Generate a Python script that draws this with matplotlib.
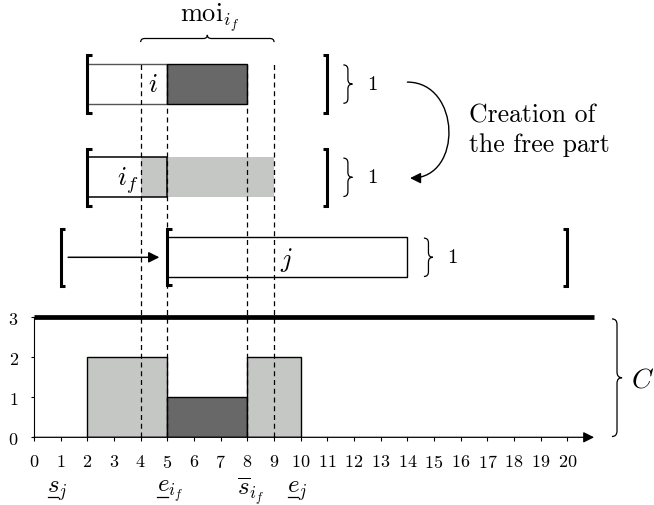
import matplotlib as mpl
mpl.use('Agg')
import matplotlib.pyplot as plt
from matplotlib.path import Path
from matplotlib.patches import PathPatch, FancyArrowPatch

plt.rcParams['font.family'] = 'cmr10'
plt.rcParams['mathtext.fontset'] = 'cm'
plt.rcParams['axes.formatter.use_mathtext'] = True

DARK = '#686868'
LIGHT = '#c5c7c5'

# resource profile (bottom part)
prof_start = [2, 5, 8]
prof_end = [5, 8, 10]
prof_height = [2, 1, 2]
prof_color = [LIGHT, DARK, LIGHT]
capacity = 3
horizon = 20
x_ticks = list(range(0, 21))
y_ticks = [0, 1, 2, 3]

# task i : white part then compulsory part
i_box = [2, 5]
i_comp = [5, 8]
i_window = [2, 11]
# free part i_f
if_box = [2, 5]
if_free = [4, 9]
if_window = [2, 11]
# task j
j_box = [5, 14]
j_window = [1, 20]
j_new_start = 5

dash_x = [4, 5, 8, 9]
bottom_labels = [r'$s_j$', r'$e_{i_f}$', r'$\overline{s}_{i_f}$', r'$e_j$']
bottom_label_x = [0.5, 4.6, 7.62, 9.48]
underlined = [True, True, False, True]

# pixel mapping: x=0 at 34px, 26.67 px per unit ; y=0 at 438.3px, 40 px per unit
PX = 26.67
PY = 40.0
fig = plt.figure(figsize=(6.54, 5.06), dpi=100)

bx = fig.add_axes([34/654, (506-438.3)/506, 21*PX/654, 3*PY/506])
for s, e, h, c in zip(prof_start, prof_end, prof_height, prof_color):
    bx.bar(s, h, width=e-s, align='edge', color=c, edgecolor='k', lw=1, zorder=2)
bx.plot([0, 21], [capacity, capacity], color='k', lw=3.4, solid_capstyle='butt', clip_on=False, zorder=3)
bx.set_xlim(0, 21)
bx.set_ylim(0, 3)
bx.spines['top'].set_visible(False)
bx.spines['right'].set_visible(False)
bx.spines['bottom'].set_visible(False)
bx.spines['left'].set_linewidth(0.8)
bx.annotate('', xy=(21, 0), xytext=(0, 0), annotation_clip=False,
            arrowprops=dict(arrowstyle='-|>', lw=0.9, color='k', shrinkA=0, shrinkB=0, mutation_scale=16))
bx.set_xticks(x_ticks)
bx.set_yticks(y_ticks)
bx.tick_params(axis='x', length=3, width=0.8, pad=8, labelsize=13)
bx.tick_params(axis='y', length=2, width=0.8, pad=9, labelsize=13)
bx.patch.set_alpha(0)

ax = fig.add_axes([0, 0, 1, 1])
ax.set_xlim(-34/PX, (654-34)/PX)
ax.set_ylim(-(506-438.3)/PY, 438.3/PY)
ax.axis('off')

ROW_I, ROW_IF, ROW_J = 8.33, 6.0, 4.0


def bracket(x, y0, y1, side, ext=0.22):
    arm = 0.17 * side
    ax.plot([x+arm, x, x, x+arm], [y0-ext, y0-ext, y1+ext, y1+ext], color='k', lw=2.2,
            solid_joinstyle='miter', solid_capstyle='butt', zorder=6)


def vbrace(x, y0, y1, w=0.34, r=0.12):
    ym = (y0 + y1) / 2
    verts = [(x, y1), (x+w/2, y1), (x+w/2, y1-r), (x+w/2, ym+r), (x+w/2, ym), (x+w, ym),
             (x+w/2, ym), (x+w/2, ym-r), (x+w/2, y0+r), (x+w/2, y0), (x, y0)]
    codes = [Path.MOVETO, Path.CURVE3, Path.CURVE3, Path.LINETO, Path.CURVE3, Path.CURVE3,
             Path.CURVE3, Path.CURVE3, Path.LINETO, Path.CURVE3, Path.CURVE3]
    ax.add_patch(PathPatch(Path(verts, codes), fc='none', ec='k', lw=0.9))


def hbrace(x0, x1, y, h=0.18, r=0.15):
    xm = (x0 + x1) / 2
    verts = [(x0, y), (x0, y+h/2), (x0+r, y+h/2), (xm-r, y+h/2), (xm, y+h/2), (xm, y+h),
             (xm, y+h/2), (xm+r, y+h/2), (x1-r, y+h/2), (x1, y+h/2), (x1, y)]
    codes = [Path.MOVETO, Path.CURVE3, Path.CURVE3, Path.LINETO, Path.CURVE3, Path.CURVE3,
             Path.CURVE3, Path.CURVE3, Path.LINETO, Path.CURVE3, Path.CURVE3]
    ax.add_patch(PathPatch(Path(verts, codes), fc='none', ec='k', lw=0.9))


# task i
ax.barh(ROW_I, i_box[1]-i_box[0], left=i_box[0], height=1, align='edge', color='white', edgecolor='#555555', lw=1)
ax.barh(ROW_I, i_comp[1]-i_comp[0], left=i_comp[0], height=1, align='edge', color=DARK, edgecolor='k', lw=1)
bracket(i_window[0], ROW_I, ROW_I+1, 1)
bracket(i_window[1], ROW_I, ROW_I+1, -1)
vbrace(11.6, ROW_I+0.02, ROW_I+0.98)
ax.text(4.47, ROW_I+0.5, r'$i$', fontsize=19, ha='center', va='center', zorder=8)
ax.text(12.67, ROW_I+0.5, '1', fontsize=15, ha='center', va='center')

# free part i_f
ax.barh(ROW_IF, if_box[1]-if_box[0], left=if_box[0], height=1, align='edge', color='white', lw=0)
ax.barh(ROW_IF, if_free[1]-if_free[0], left=if_free[0], height=1, align='edge', color=LIGHT, lw=0)
ax.barh(ROW_IF, if_box[1]-if_box[0], left=if_box[0], height=1, align='edge', fill=False, edgecolor='k', lw=1.1)
bracket(if_window[0], ROW_IF, ROW_IF+1, 1)
bracket(if_window[1], ROW_IF, ROW_IF+1, -1)
vbrace(11.6, ROW_IF+0.02, ROW_IF+0.98)
ax.text(3.5, ROW_IF+0.45, r'$i_f$', fontsize=19, ha='center', va='center', zorder=8)
ax.text(12.67, ROW_IF+0.5, '1', fontsize=15, ha='center', va='center')

# task j
ax.barh(ROW_J, j_box[1]-j_box[0], left=j_box[0], height=1, align='edge', color='white', edgecolor='k', lw=1)
bracket(j_window[0], ROW_J, ROW_J+1, 1, ext=0.22)
bracket(j_new_start, ROW_J, ROW_J+1, 1, ext=0.2)
bracket(j_window[1], ROW_J, ROW_J+1, -1, ext=0.22)
vbrace(14.62, ROW_J+0.02, ROW_J+0.98)
ax.text(9.45, ROW_J+0.45, r'$j$', fontsize=19, ha='center', va='center', zorder=8)
ax.text(15.67, ROW_J+0.5, '1', fontsize=15, ha='center', va='center')
ax.annotate('', xy=(j_new_start-0.3, ROW_J+0.5), xytext=(j_window[0]+0.28, ROW_J+0.5),
            arrowprops=dict(arrowstyle='-|>', lw=1.1, color='k', shrinkA=0, shrinkB=0, mutation_scale=16))

# dashed guide lines
for x in dash_x:
    ax.plot([x, x], [0, ROW_I+1], color='k', lw=0.9, ls=(0, (4, 3)), zorder=7)

# moi brace
hbrace(if_free[0], if_free[1], 9.88)
ax.text(6.6, 10.5, r'$\mathrm{moi}_{i_f}$', fontsize=19, ha='center', va='center')

# creation arrow (cubic curve bulging to the right)
a0, a1 = (14.0, 8.88), (14.1, 6.48)
curve = Path([a0, (a0[0]+2.0, a0[1]), (a1[0]+2.0, a1[1]), a1],
             [Path.MOVETO, Path.CURVE4, Path.CURVE4, Path.CURVE4])
ax.add_patch(FancyArrowPatch(path=curve, arrowstyle='-|>', mutation_scale=16, lw=1.0, color='k'))
ax.text(16.3, 7.7, 'Creation of\nthe free part', fontsize=18.5, ha='left', va='center', linespacing=1.3)

# capacity brace
vbrace(21.67, 0.02, 2.96, w=0.38, r=0.14)
ax.text(22.83, 1.45, r'$C$', fontsize=20, ha='center', va='center')

# bottom labels
for lab, x, u in zip(bottom_labels, bottom_label_x, underlined):
    ax.text(x, -1.31, lab, fontsize=18, ha='left', va='center')
    if u:
        ax.plot([x+0.03, x+0.41], [-1.5, -1.5], color='k', lw=0.9)

fig.savefig('out.png', dpi=100)
